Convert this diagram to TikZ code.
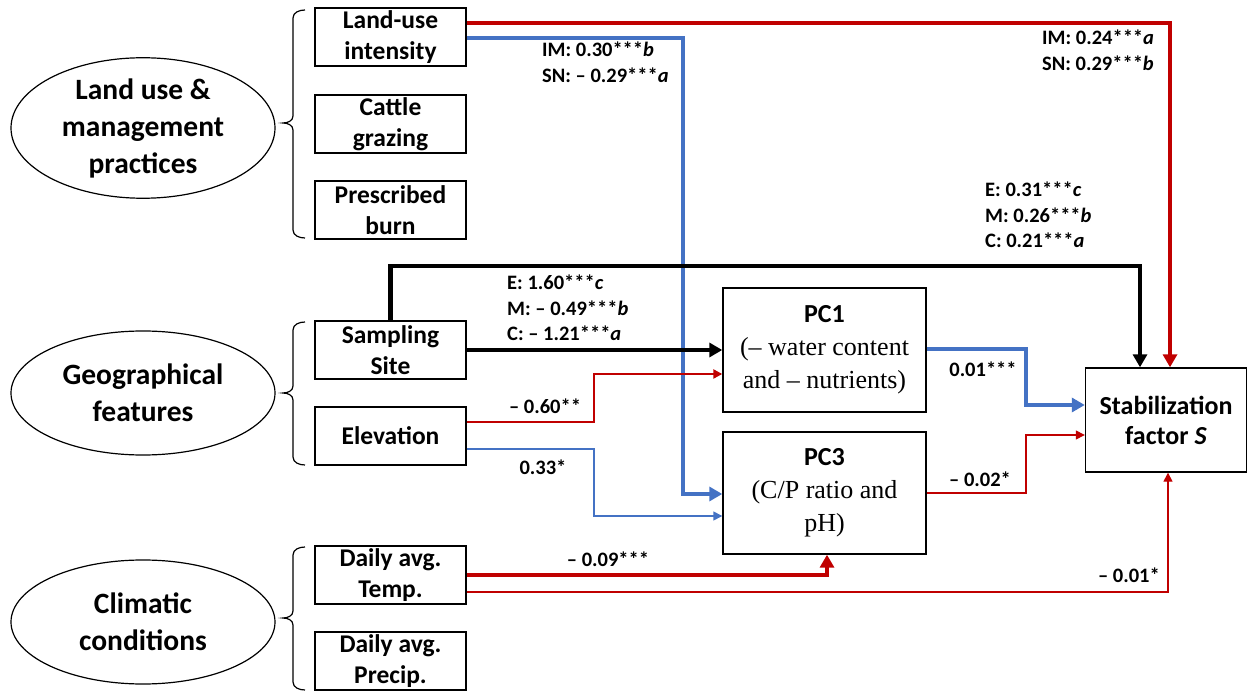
\documentclass[tikz,border=0pt]{standalone}
\usepackage{fontspec}
\setmainfont{Carlito}
\newfontfamily\seriffont{Liberation Serif}
\usetikzlibrary{shapes.geometric,arrows.meta,calc}
\definecolor{cred}{RGB}{192,0,0}
\definecolor{cblue}{RGB}{68,114,196}
\begin{document}
\begin{tikzpicture}[x=1pt,y=-1pt,
  box/.style={draw, line width=1.4pt, fill=white, minimum width=151pt, minimum height=58pt, align=center, inner sep=0pt, font=\fontsize{25.5}{30.5}\selectfont\bfseries},
  pcbox/.style={draw, line width=1.4pt, fill=white, minimum width=203pt, align=center, inner sep=0pt, font=\fontsize{26}{33}\selectfont\seriffont},
  grp/.style={draw, line width=1.2pt, ellipse, minimum width=264pt, minimum height=124pt, align=center, inner sep=0pt, font=\fontsize{29.5}{37}\selectfont\bfseries},
  lbl/.style={align=left, inner sep=0pt, font=\fontsize{20.5}{25.5}\selectfont\bfseries},
  bigtip/.style={-{Triangle[length=13pt,width=14pt]}},
  smalltip/.style={-{Triangle[length=9pt,width=9pt]}},
  thickred/.style={draw=cred, line width=4.5pt, bigtip},
  medred/.style={draw=cred, line width=2.8pt, smalltip},
  thinred/.style={draw=cred, line width=1.4pt, smalltip},
  thickblue/.style={draw=cblue, line width=4.5pt, bigtip},
  thinblue/.style={draw=cblue, line width=1.4pt, smalltip},
  thickblack/.style={draw=black, line width=4.2pt, bigtip},
  bracestyle/.style={draw, line width=1.2pt}
]
\useasboundingbox (0,0) rectangle (1248,692);

% group ellipses
\node[grp] (g1) at (143,128) {Land use \&\\management\\practices};
\node[grp] (g2) at (143,393) {Geographical\\features};
\node[grp] (g3) at (143,622) {Climatic\\conditions};

% braces
\draw[bracestyle] (305,10) to[out=180,in=90] (293,18) -- (293,116) to[out=-90,in=0] (283,123) to[out=0,in=90] (293,130) -- (293,230) to[out=-90,in=180] (305,238);
\draw[bracestyle] (305,322) to[out=180,in=90] (293,330) -- (293,386) to[out=-90,in=0] (283,393) to[out=0,in=90] (293,400) -- (293,457) to[out=-90,in=180] (305,465);
\draw[bracestyle] (305,547) to[out=180,in=90] (293,555) -- (293,611) to[out=-90,in=0] (283,618) to[out=0,in=90] (293,625) -- (293,682) to[out=-90,in=180] (305,690);

% left boxes
\node[box] (lui) at (390.5,37) {Land-use\\intensity};
\node[box] (cat) at (390.5,124) {Cattle\\grazing};
\node[box] (pb) at (390.5,210) {Prescribed\\burn};
\node[box] (ss) at (390.5,350) {Sampling\\Site};
\node[box] (elev) at (390.5,436) {Elevation};
\node[box] (temp) at (390.5,575) {Daily avg.\\Temp.};
\node[box] (prec) at (390.5,661) {Daily avg.\\Precip.};

% PC boxes and response
\node[pcbox, minimum height=124pt] (pc1) at (824.5,350) {{\normalfont\bfseries PC1}\\(– water content\\and – nutrients)};
\node[pcbox, minimum height=122pt] (pc3) at (824.5,493) {{\normalfont\bfseries PC3}\\(C/P ratio and\\pH)};
\node[draw, line width=1.4pt, fill=white, minimum width=161pt, minimum height=104pt, align=center, inner sep=0pt, font=\fontsize{26}{30}\selectfont\bfseries] (stab) at (1166,420) {Stabilization\\factor \textit{S}};

% connectors
\draw[thickred] (lui.east |- 0,23) -| (stab.north -| 1170,0);
\draw[thickblue] (lui.east |- 0,38) -- (683,38) |- (pc3.west |- 0,494);
\draw[thickblack] (ss.north) |- (1140,266) -- (stab.north -| 1140,0);
\draw[thickblack] (ss.east) -- (pc1.west);
\draw[medred] (elev.east |- 0,422) -- (594,422) |- (pc1.west |- 0,374);
\draw[thinblue] (elev.east |- 0,449) -- (594,449) |- (pc3.west |- 0,516);
\draw[thickblue] (pc1.east |- 0,349) -- (1026,349) |- (stab.west |- 0,405);
\draw[thinred] (pc3.east |- 0,493) -- (1026,493) |- (stab.west |- 0,435);
\draw[thickred] (temp.east |- 0,575) -| (pc3.south -| 827,0);
\draw[thinred] (temp.east |- 0,592) -| (stab.south -| 1168,0);

% labels
\node[lbl, anchor=north west] (l1) at (542,42) {IM: 0.30***\textit{b}\\SN: – 0.29***\textit{a}};
\node[lbl, anchor=north west] (l2) at (1042,30) {IM: 0.24***\textit{a}\\SN: 0.29***\textit{b}};
\node[lbl, anchor=north west] (l3) at (985,182) {E: 0.31***\textit{c}\\M: 0.26***\textit{b}\\C: 0.21***\textit{a}};
\node[lbl, anchor=north west] (l4) at (507,275) {E: 1.60***\textit{c}\\M: – 0.49***\textit{b}\\C: – 1.21***\textit{a}};
\node[lbl] (l5) at (545,406) {– 0.60**};
\node[lbl] (l6) at (543,467) {0.33*};
\node[lbl] (l7) at (983,369) {0.01***};
\node[lbl] (l8) at (980,479) {– 0.02*};
\node[lbl] (l9) at (608,559) {– 0.09***};
\node[lbl, anchor=east] (l10) at (1160,575) {– 0.01*};
\end{tikzpicture}
\end{document}
